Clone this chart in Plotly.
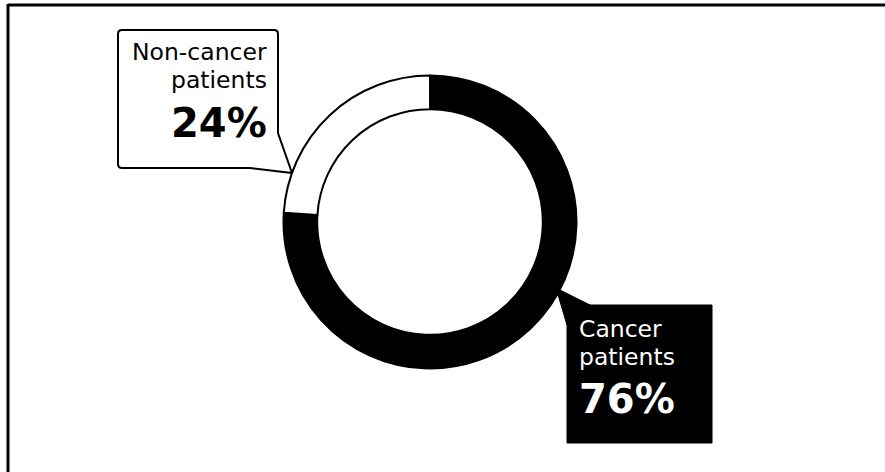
import plotly.graph_objects as go

# ---- data ----
labels = ["Cancer patients", "Non-cancer patients"]
values = [76, 24]
slice_colors = ["#000000", "#ffffff"]
pct_labels = ["76%", "24%"]
name_lines = [["Cancer", "patients"], ["Non-cancer", "patients"]]

W, H = 885, 472
FONT = "DejaVu Sans"

def px(x):
    return x / W

def py(y):
    return 1 - y / H

fig = go.Figure()

# donut: center (430,222), outer radius ~146.5
cx, cy, r = 430, 222, 146.5
fig.add_trace(go.Pie(
    labels=labels, values=values, sort=False, direction="clockwise", rotation=0,
    hole=0.77,
    marker=dict(colors=slice_colors, line=dict(color="#000000", width=2)),
    textinfo="none", hoverinfo="label+percent", showlegend=False,
    domain=dict(x=[px(cx - r), px(cx + r)], y=[py(cy + r), py(cy - r)]),
))

shapes = [
    # frame (left and top edges)
    dict(type="line", xref="x", yref="y", x0=8, y0=4, x1=8, y1=472,
         line=dict(color="#000", width=3)),
    dict(type="line", xref="x", yref="y", x0=8, y0=5, x1=885, y1=5,
         line=dict(color="#000", width=3)),
    # non-cancer speech bubble
    dict(type="path", xref="x", yref="y", layer="below",
         path="M 122,30 L 274,30 Q 278,30 278,34 L 278,133 L 292,173 L 250,168 "
              "L 122,168 Q 118,168 118,164 L 118,34 Q 118,30 122,30 Z",
         fillcolor="#ffffff", line=dict(color="#000", width=2)),
    # cancer speech bubble
    dict(type="path", xref="x", yref="y", layer="below",
         path="M 567,305 L 590,305 L 556,288 L 567,325 Z",
         fillcolor="#000", line=dict(color="#000", width=1)),
    dict(type="rect", xref="x", yref="y", layer="below",
         x0=567, y0=305, x1=712, y1=443,
         fillcolor="#000", line=dict(color="#000", width=1)),
]

annotations = []
# non-cancer text (right aligned)
for txt, y, size, bold in [(name_lines[1][0], 52, 23.5, False),
                           (name_lines[1][1], 80, 23.5, False),
                           (pct_labels[1], 123, 40, True)]:
    annotations.append(dict(
        xref="x", yref="y", x=268, y=y, xanchor="right", yanchor="middle",
        borderpad=0,
        text=f"<b>{txt}</b>" if bold else txt, showarrow=False,
        font=dict(family=FONT, size=size, color="#000")))
# cancer text (left aligned, white)
for txt, y, size, bold in [(name_lines[0][0], 329, 23.5, False),
                           (name_lines[0][1], 357, 23.5, False),
                           (pct_labels[0], 399, 40, True)]:
    annotations.append(dict(
        xref="x", yref="y", x=578, y=y, xanchor="left", yanchor="middle",
        borderpad=0,
        text=f"<b>{txt}</b>" if bold else txt, showarrow=False,
        font=dict(family=FONT, size=size, color="#fff")))

fig.update_layout(
    width=W, height=H,
    margin=dict(l=0, r=0, t=0, b=0),
    paper_bgcolor="#ffffff", plot_bgcolor="rgba(0,0,0,0)",
    xaxis=dict(range=[0, W], visible=False, domain=[0, 1], fixedrange=True),
    yaxis=dict(range=[H, 0], visible=False, domain=[0, 1], fixedrange=True),
    shapes=shapes, annotations=annotations, showlegend=False,
)

fig.write_html("out.html")
